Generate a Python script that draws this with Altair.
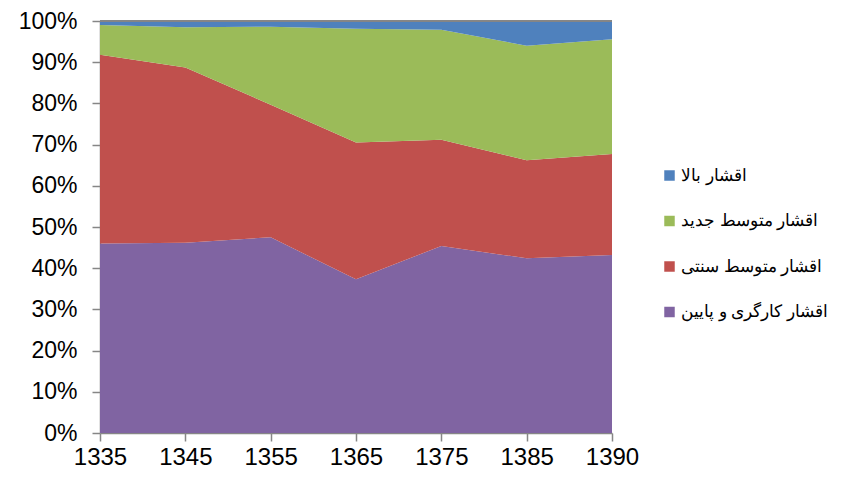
import altair as alt
import pandas as pd

years = ["1335", "1345", "1355", "1365", "1375", "1385", "1390"]

s_top = "اقشار بالا"
s_new = "اقشار متوسط جدید"
s_trad = "اقشار متوسط سنتی"
s_low = "اقشار کارگری و پایین"

low = [46.0, 46.2, 47.5, 37.3, 45.4, 42.4, 43.2]
trad = [45.8, 42.5, 32.2, 33.2, 25.8, 23.8, 24.5]
new = [7.2, 9.8, 18.9, 27.6, 26.7, 27.8, 27.9]
top = [1.0, 1.5, 1.4, 1.9, 2.1, 6.0, 4.4]

series = [(s_low, low, 0), (s_trad, trad, 1), (s_new, new, 2), (s_top, top, 3)]
rows = []
for name, vals, rank in series:
    for y, v in zip(years, vals):
        rows.append({"year": y, "group": name, "value": v, "rank": rank})
df = pd.DataFrame(rows)

legend_order = [s_top, s_new, s_trad, s_low]
colors = ["#4F81BD", "#9BBB59", "#C0504D", "#8064A2"]

grey = "#868686"
font = "Liberation Sans"

area = alt.Chart(df).mark_area(opacity=1).encode(
    x=alt.X("year:O", scale=alt.Scale(type="point", padding=0),
            axis=alt.Axis(title=None, labelAngle=0, labelFontSize=24, labelFont=font,
                          labelColor="#000000", domainColor=grey, tickColor=grey,
                          tickSize=8, labelPadding=4, domainWidth=1.5, tickWidth=1.5)),
    y=alt.Y("value:Q", stack="normalize",
            scale=alt.Scale(domain=[0, 1], nice=False),
            axis=alt.Axis(title=None, format=".0%", values=[i / 10 for i in range(11)],
                          labelFontSize=23, labelFont=font, labelColor="#000000",
                          domainColor=grey, tickColor=grey, tickSize=8, labelPadding=15,
                          grid=False, domainWidth=1.5, tickWidth=1.5)),
    color=alt.Color("group:N", scale=alt.Scale(domain=legend_order, range=colors),
                    legend=alt.Legend(title=None, orient="none", legendX=561, legendY=146,
                                      symbolType="square", symbolSize=110,
                                      symbolStrokeWidth=0, labelFontSize=17,
                                      labelFont=font, labelColor="#000000",
                                      labelLimit=0,
                                      rowPadding=27.5, labelOffset=3, padding=0)),
    order=alt.Order("rank:Q", sort="ascending"),
)

topline = alt.Chart(df).mark_rule(color=grey, strokeWidth=1.5).encode(
    y=alt.value(0), x=alt.value(0), x2=alt.value(512)
)

chart = alt.layer(area, topline).properties(
    width=512, height=412,
    autosize=alt.AutoSizeParams(type="none"),
    padding={"left": 92, "top": 13, "right": 221, "bottom": 36},
).configure_view(stroke=None)

chart.save("out.html", embed_options={"renderer": "svg", "actions": False})
